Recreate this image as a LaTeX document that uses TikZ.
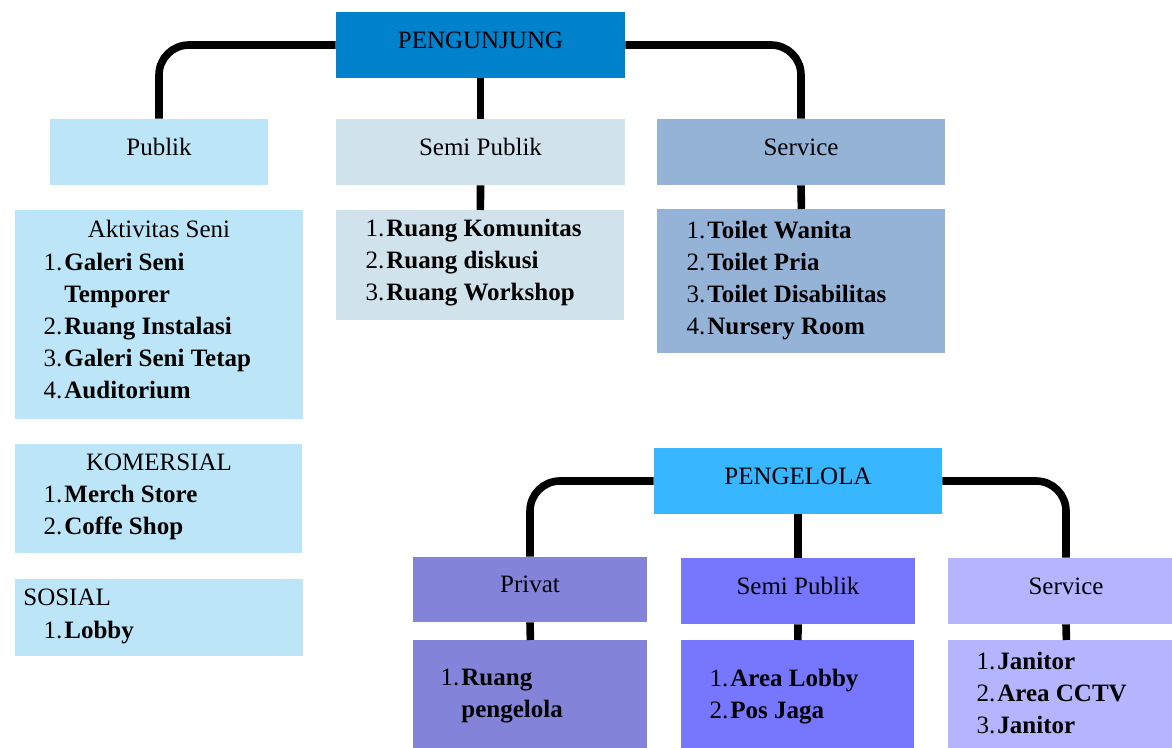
\documentclass[tikz,border=0pt]{standalone}
\usepackage{fontspec}
\setmainfont{Liberation Serif}

\definecolor{pengunjungblue}{RGB}{0,129,204}
\definecolor{publikblue}{RGB}{189,229,248}
\definecolor{semiblue}{RGB}{208,226,236}
\definecolor{serviceblue}{RGB}{149,179,215}
\definecolor{pengelolablue}{RGB}{56,182,255}
\definecolor{privatviolet}{RGB}{131,131,217}
\definecolor{semiviolet}{RGB}{118,118,255}
\definecolor{serviceviolet}{RGB}{180,180,255}

\newcommand{\numit}[2]{\makebox[10.5pt][r]{#1}\hspace{1pt}\textbf{#2}}

\begin{document}
\begin{tikzpicture}[x=0.5pt, y=-0.5pt,
        font=\fontsize{12.5}{16}\selectfont,
        hdr/.style={inner sep=0pt, text height=8pt, text depth=4.6pt, minimum height=33pt},
        listbox/.style={inner sep=0pt, anchor=north west},
        listtxt/.style={inner sep=0pt, anchor=north west, align=left},
        conn/.style={line width=3.8pt, rounded corners=15pt}]
            \clip (0,0) rectangle (1172,748);

            % Pengunjung
            \node[hdr, fill=pengunjungblue, minimum width=144.5pt] (pengunjung) at (480.5,45) {PENGUNJUNG};
            \node[hdr, fill=publikblue, minimum width=109pt] (publik) at (159,152) {Publik};
            \node[hdr, fill=semiblue, minimum width=144.5pt] (semipublik) at (480.5,152) {Semi Publik};
            \node[hdr, fill=serviceblue, minimum width=144pt] (service) at (801,152) {Service};

            % Lists under pengunjung
            \node[listbox, fill=publikblue, minimum width=144pt, minimum height=104.5pt] (seni) at (15,210) {};
            \node[listbox, fill=semiblue, minimum width=144pt, minimum height=55pt] (semilist) at (336,210) {};
            \node[listbox, fill=serviceblue, minimum width=144pt, minimum height=72pt] (servicelist) at (657,209) {};
            \node[listbox, fill=publikblue, minimum width=143.5pt, minimum height=54.5pt] (komersial) at (15,444) {};
            \node[listbox, fill=publikblue, minimum width=144pt, minimum height=38.5pt] (sosial) at (15,579) {};

            \node[inner sep=0pt, anchor=base] (senititle) at (159,238) {Aktivitas Seni};
            \node[listtxt] (senitxt) at (41,253) {\numit{1.}{Galeri Seni}\\ \hspace*{11.5pt}\textbf{Temporer}\\ \numit{2.}{Ruang Instalasi}\\ \numit{3.}{Galeri Seni Tetap}\\ \numit{4.}{Auditorium}};
            \node[listtxt] (semitxt) at (363,219) {\numit{1.}{Ruang Komunitas}\\ \numit{2.}{Ruang diskusi}\\ \numit{3.}{Ruang Workshop}};
            \node[listtxt] (servicetxt) at (684,221) {\numit{1.}{Toilet Wanita}\\ \numit{2.}{Toilet Pria}\\ \numit{3.}{Toilet Disabilitas}\\ \numit{4.}{Nursery Room}};
            \node[inner sep=0pt, anchor=base] (komersialtitle) at (159,470) {KOMERSIAL};
            \node[listtxt] (komersialtxt) at (41,485) {\numit{1.}{Merch Store}\\ \numit{2.}{Coffe Shop}};
            \node[inner sep=0pt, anchor=base west] (sosialtitle) at (23,605) {SOSIAL};
            \node[listtxt] (sosialtxt) at (41,621) {\numit{1.}{Lobby}};

            % Pengelola
            \node[hdr, fill=pengelolablue, minimum width=144pt] (pengelola) at (798,481) {PENGELOLA};
            \node[hdr, fill=privatviolet, minimum width=117pt, minimum height=32.5pt] (privat) at (530,589.5) {Privat};
            \node[hdr, fill=semiviolet, minimum width=117pt] (semipengelola) at (798,591) {Semi Publik};
            \node[hdr, fill=serviceviolet, minimum width=118pt] (servicepengelola) at (1066,591) {Service};

            \node[listbox, fill=privatviolet, minimum width=117pt, minimum height=60pt] (privatlist) at (413,640) {};
            \node[listbox, fill=semiviolet, minimum width=116.5pt, minimum height=60pt] (semipengelolalist) at (681,640) {};
            \node[listbox, fill=serviceviolet, minimum width=118pt, minimum height=60pt] (servicepengelolalist) at (948,640) {};

            \node[listtxt] (privattxt) at (438,669) {\numit{1.}{Ruang}\\ \hspace*{11.5pt}\textbf{pengelola}};
            \node[listtxt] (semipengelolatxt) at (707,669) {\numit{1.}{Area Lobby}\\ \numit{2.}{Pos Jaga}};
            \node[listtxt] (servicepengelolatxt) at (974,652) {\numit{1.}{Janitor}\\ \numit{2.}{Area CCTV}\\ \numit{3.}{Janitor}};

            % Connectors
            \draw[conn] (pengunjung.west) -| (publik.north);
            \draw[conn] (pengunjung.east) -| (service.north);
            \draw[conn] (pengunjung.south) -- (semipublik.north);
            \draw[conn] (semipublik.south) -- (semilist.north);
            \draw[conn] (service.south) -- (servicelist.north);

            \draw[conn] (pengelola.west) -| (privat.north);
            \draw[conn] (pengelola.east) -| (servicepengelola.north);
            \draw[conn] (pengelola.south) -- (semipengelola.north);
            \draw[conn] (privat.south) -- (privatlist.north);
            \draw[conn] (semipengelola.south) -- (semipengelolalist.north);
            \draw[conn] (servicepengelola.south) -- (servicepengelolalist.north);
\end{tikzpicture}
\end{document}
